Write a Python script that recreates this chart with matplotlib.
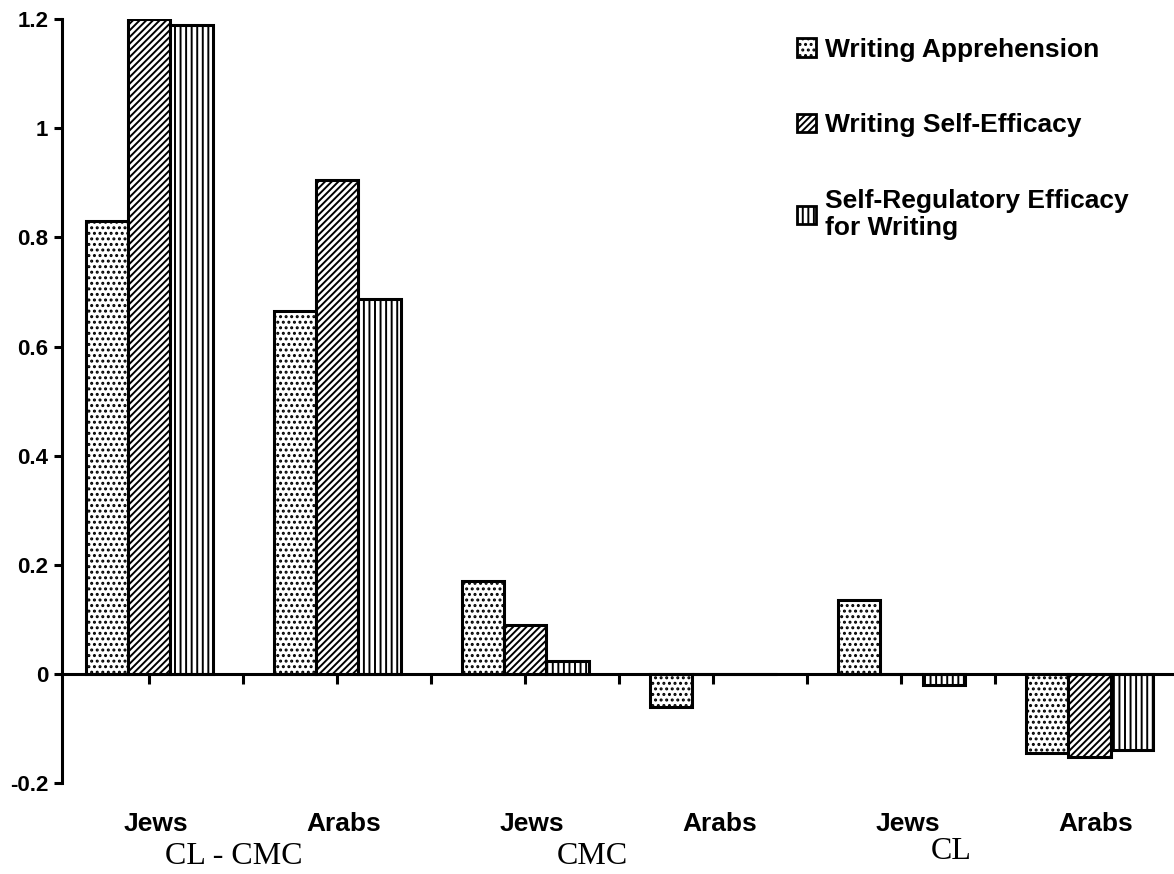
import numpy as np
import matplotlib
matplotlib.use('Agg')
import matplotlib.pyplot as plt
from matplotlib.patches import Patch
import matplotlib.transforms as mtransforms

# Data
groups = ['Jews', 'Arabs', 'Jews', 'Arabs', 'Jews', 'Arabs']
conditions = ['CL - CMC', 'CMC', 'CL']
series_names = ['Writing Apprehension', 'Writing Self-Efficacy',
                'Self-Regulatory Efficacy\nfor Writing']
apprehension = [0.83, 0.665, 0.17, -0.06, 0.135, -0.145]
self_efficacy = [1.20, 0.905, 0.09, 0.0, 0.0, -0.152]
self_regulatory = [1.19, 0.687, 0.023, 0.0, -0.02, -0.14]

plt.rcParams['font.family'] = ['Liberation Sans', 'DejaVu Sans']
plt.rcParams['hatch.linewidth'] = 1.4
plt.rcParams['hatch.color'] = 'black'

fig = plt.figure(figsize=(11.74, 8.74), dpi=100)
ax = fig.add_axes([0.053, 0.104, 0.947, 0.874])

x = np.arange(len(groups))
w = 0.225
series = [apprehension, self_efficacy, self_regulatory]
hatches = ['...', '/////', '|||']
for k, (vals, h) in enumerate(zip(series, hatches)):
    ax.bar(x + (k - 1) * w, vals, width=w, facecolor='white', edgecolor='black',
           hatch=h, linewidth=2.2)

ax.set_xlim(-0.463, 5.45)
ax.set_ylim(-0.2, 1.2)

# axes styling
for s in ['top', 'right']:
    ax.spines[s].set_visible(False)
ax.spines['bottom'].set_position(('data', 0))
ax.spines['left'].set_linewidth(2.2)
ax.spines['bottom'].set_linewidth(2.2)

ax.set_yticks([-0.2, 0, 0.2, 0.4, 0.6, 0.8, 1.0, 1.2])
ax.set_yticklabels(['-0.2', '0', '0.2', '0.4', '0.6', '0.8', '1', '1.2'],
                   fontweight='bold', fontsize=16)
ax.tick_params(axis='y', direction='out', length=6, width=2.2, pad=4)
ax.set_xticks(np.arange(0, 5.0, 0.5))
ax.set_xticklabels([])
ax.tick_params(axis='x', direction='out', length=7, width=2.2)

# category labels below the plot
trans = mtransforms.blended_transform_factory(ax.transData, ax.transAxes)
for xi, g in zip(x, groups):
    ax.text(xi + 0.035, -0.054, g, transform=trans, ha='center', va='center',
            fontsize=19, fontweight='bold')

# condition labels
cond_x = [0.447, 2.356, 4.266]
cond_y = [-0.0955, -0.0955, -0.090]
for cx, cy, c in zip(cond_x, cond_y, conditions):
    ax.text(cx, cy, c, transform=trans, ha='center', va='center',
            fontsize=23, family=['Liberation Serif', 'DejaVu Serif'])

handles = [Patch(facecolor='white', edgecolor='black', hatch=h, linewidth=2)
           for h in hatches]
leg = fig.legend(handles, series_names, loc='upper left',
                 bbox_to_anchor=(0.659, 0.984), frameon=False,
                 prop={'weight': 'bold', 'size': 19},
                 handlelength=0.7, handleheight=0.7, handletextpad=0.35,
                 labelspacing=1.95)

fig.savefig('out.png', dpi=100)
